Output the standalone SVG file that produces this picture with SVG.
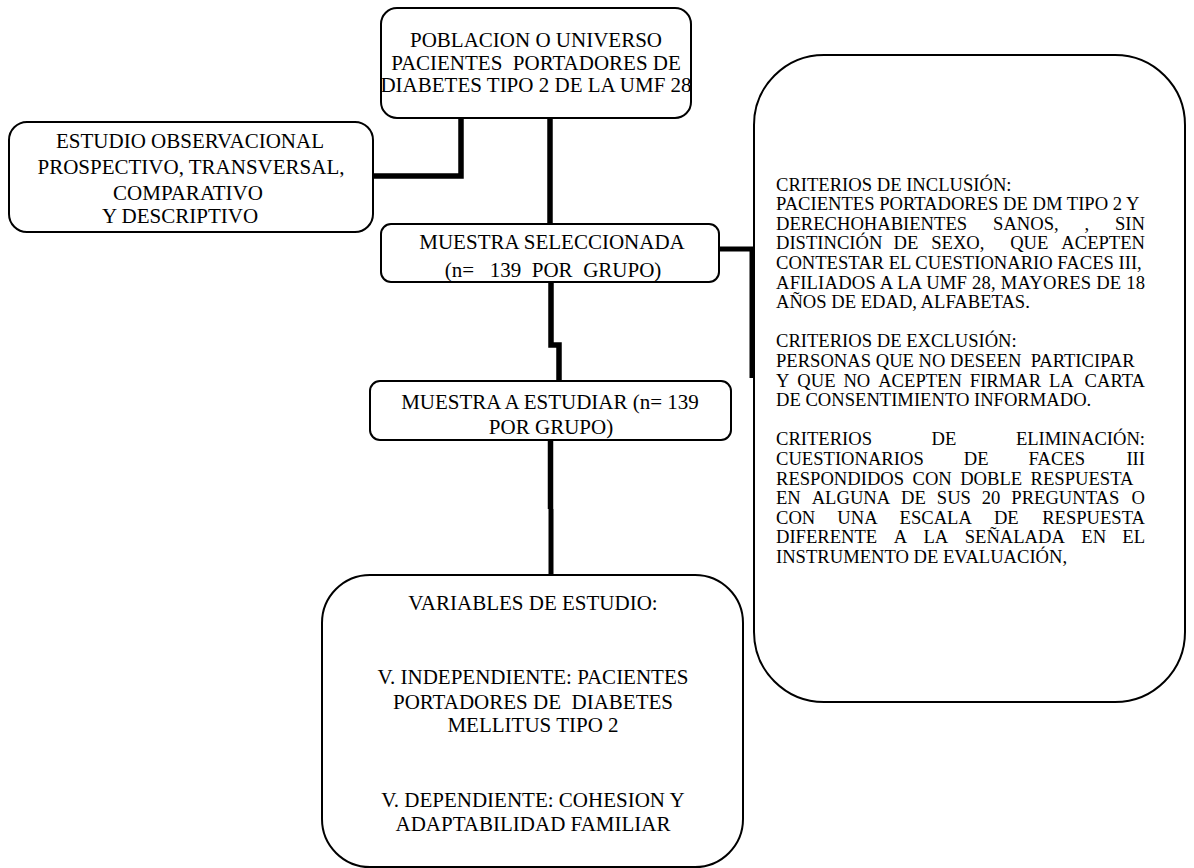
<svg xmlns="http://www.w3.org/2000/svg" width="1194" height="868" viewBox="0 0 1194 868">
<style>
.box{fill:#fff;stroke:#000;stroke-width:2}
.t{font-family:"Liberation Serif","Times New Roman",serif;font-size:21px;fill:#000;text-anchor:middle}
.r{font-family:"Liberation Serif","Times New Roman",serif;font-size:18.6px;fill:#000}
.e{text-anchor:end}
.c{fill:none;stroke:#000;stroke-width:5.5}
</style>
<rect width="1194" height="868" fill="#fff"/>
<g id="connectors">
<polyline class="c" points="461,117 461,176 373,176"/>
<line class="c" x1="550" y1="117" x2="550" y2="224"/>
<polyline class="c" points="551,282 551,345 559,345 559,381"/>
<line class="c" x1="550.5" y1="440" x2="550.5" y2="509"/>
<line class="c" x1="551" y1="509" x2="551" y2="575" style="stroke-width:5"/>
<polyline class="c" points="719,249 752,249 752,378" style="stroke-width:5"/>
</g>
<g id="poblacion">
<rect class="box" x="381" y="8" width="310" height="110" rx="16"/>
<text class="t" x="536" y="47">POBLACION O UNIVERSO</text>
<text class="t" x="536" y="69.5" xml:space="preserve">PACIENTES  PORTADORES DE</text>
<text class="t" x="536" y="92">DIABETES TIPO 2 DE LA UMF 28</text>
</g>
<g id="estudio">
<rect class="box" x="9" y="122" width="364" height="110" rx="18"/>
<text class="t" x="190" y="147.5">ESTUDIO OBSERVACIONAL</text>
<text class="t" x="191" y="174">PROSPECTIVO, TRANSVERSAL,</text>
<text class="t" x="188" y="199.5">COMPARATIVO</text>
<text class="t" x="180" y="223">Y DESCRIPTIVO</text>
</g>
<g id="muestra-seleccionada">
<rect class="box" x="381" y="224" width="338" height="58" rx="10"/>
<text class="t" x="552" y="249">MUESTRA SELECCIONADA</text>
<text class="t" x="553" y="277" xml:space="preserve">(n=   139  POR  GRUPO)</text>
</g>
<g id="muestra-estudiar">
<rect class="box" x="370" y="381" width="361" height="59" rx="10"/>
<text class="t" x="550" y="409">MUESTRA A ESTUDIAR (n= 139</text>
<text class="t" x="551" y="434">POR GRUPO)</text>
</g>
<g id="variables">
<rect class="box" x="322" y="575" width="421" height="292" rx="48"/>
<text class="t" x="533" y="610">VARIABLES DE ESTUDIO:</text>
<text class="t" x="533" y="684">V. INDEPENDIENTE: PACIENTES</text>
<text class="t" x="533" y="708.5" xml:space="preserve">PORTADORES DE  DIABETES</text>
<text class="t" x="533" y="732">MELLITUS TIPO 2</text>
<text class="t" x="533" y="807">V. DEPENDIENTE: COHESION Y</text>
<text class="t" x="533" y="830.5">ADAPTABILIDAD FAMILIAR</text>
</g>
<g id="criterios">
<rect class="box" x="754" y="55" width="431" height="647" rx="70"/>
<text class="r" x="776" y="190.5">CRITERIOS DE INCLUSIÓN:</text>
<text class="r" x="776" y="210.1">PACIENTES PORTADORES DE DM TIPO 2 Y</text>
<text class="r" y="229.7"><tspan x="776">DERECHOHABIENTES</tspan><tspan x="993.1">SANOS,</tspan><tspan x="1084.6">,</tspan><tspan x="1145" class="e">SIN</tspan></text>
<text class="r" y="249.3"><tspan x="776">DISTINCIÓN</tspan><tspan x="893.5">DE</tspan><tspan x="931.2">SEXO,</tspan><tspan x="1010.2">QUE</tspan><tspan x="1145" class="e">ACEPTEN</tspan></text>
<text class="r" x="776" y="268.9">CONTESTAR EL CUESTIONARIO FACES III,</text>
<text class="r" x="776" y="288.5" textLength="369" lengthAdjust="spacing">AFILIADOS A LA UMF 28, MAYORES DE 18</text>
<text class="r" x="776" y="308.1">AÑOS DE EDAD, ALFABETAS.</text>
<text class="r" x="776" y="347.3">CRITERIOS DE EXCLUSIÓN:</text>
<text class="r" x="776" y="366.9" xml:space="preserve">PERSONAS QUE NO DESEEN  PARTICIPAR</text>
<text class="r" y="386.5"><tspan x="776">Y</tspan><tspan x="797.3">QUE</tspan><tspan x="843.4">NO</tspan><tspan x="878.2">ACEPTEN</tspan><tspan x="969.8">FIRMAR</tspan><tspan x="1049">LA</tspan><tspan x="1145" class="e">CARTA</tspan></text>
<text class="r" x="776" y="406.1">DE CONSENTIMIENTO INFORMADO.</text>
<text class="r" y="445.3"><tspan x="776">CRITERIOS</tspan><tspan x="931.6">DE</tspan><tspan x="1145" class="e">ELIMINACIÓN:</tspan></text>
<text class="r" y="464.9"><tspan x="776">CUESTIONARIOS</tspan><tspan x="963.8">DE</tspan><tspan x="1028.6">FACES</tspan><tspan x="1145" class="e">III</tspan></text>
<text class="r" y="484.5"><tspan x="776">RESPONDIDOS</tspan><tspan x="912.5">CON</tspan><tspan x="960.2">DOBLE</tspan><tspan x="1030.6">RESPUESTA</tspan></text>
<text class="r" y="504.1"><tspan x="776">EN</tspan><tspan x="811.7">ALGUNA</tspan><tspan x="901.1">DE</tspan><tspan x="936.8">SUS</tspan><tspan x="981.8">20</tspan><tspan x="1011.3">PREGUNTAS</tspan><tspan x="1145" class="e">O</tspan></text>
<text class="r" y="523.7"><tspan x="776">CON</tspan><tspan x="837.3">UNA</tspan><tspan x="899.6">ESCALA</tspan><tspan x="993.9">DE</tspan><tspan x="1145" class="e">RESPUESTA</tspan></text>
<text class="r" y="543.3"><tspan x="776">DIFERENTE</tspan><tspan x="893.7">A</tspan><tspan x="923.5">LA</tspan><tspan x="964.7">SEÑALADA</tspan><tspan x="1081.3">EN</tspan><tspan x="1145" class="e">EL</tspan></text>
<text class="r" x="776" y="562.9">INSTRUMENTO DE EVALUACIÓN,</text>
</g>
</svg>
